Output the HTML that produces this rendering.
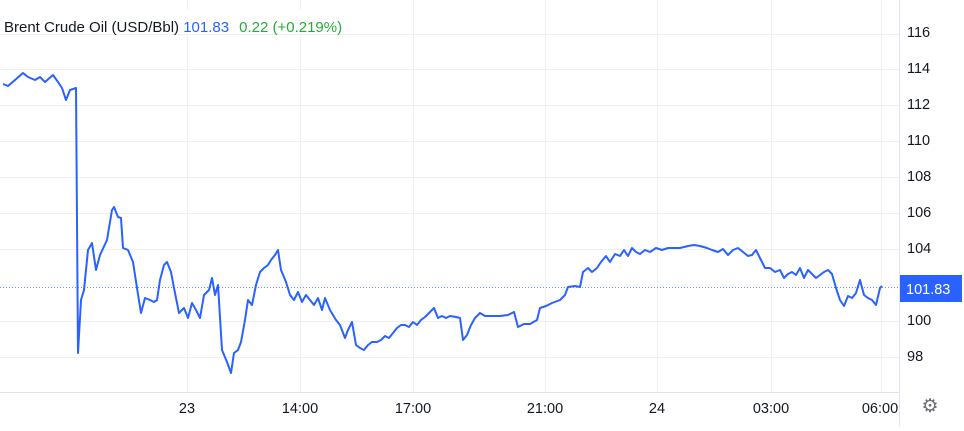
<!DOCTYPE html><html><head><style>
body{margin:0;background:#fff;width:964px;height:426px;overflow:hidden;font-family:"Liberation Sans",Arial,sans-serif}
</style></head><body>
<svg width="964" height="426" xmlns="http://www.w3.org/2000/svg" font-family="Liberation Sans, Arial, sans-serif">
<g stroke="#eef0f3" stroke-width="1">
<line x1="0" y1="34.5" x2="899" y2="34.5"/><line x1="0" y1="69.5" x2="899" y2="69.5"/><line x1="0" y1="105.5" x2="899" y2="105.5"/><line x1="0" y1="141.5" x2="899" y2="141.5"/><line x1="0" y1="177.5" x2="899" y2="177.5"/><line x1="0" y1="213.5" x2="899" y2="213.5"/><line x1="0" y1="249.5" x2="899" y2="249.5"/><line x1="0" y1="321.5" x2="899" y2="321.5"/><line x1="0" y1="357.5" x2="899" y2="357.5"/>
<line x1="187.5" y1="0" x2="187.5" y2="392"/><line x1="300.5" y1="0" x2="300.5" y2="392"/><line x1="413.5" y1="0" x2="413.5" y2="392"/><line x1="545.5" y1="0" x2="545.5" y2="392"/><line x1="657.5" y1="0" x2="657.5" y2="392"/><line x1="771.5" y1="0" x2="771.5" y2="392"/><line x1="881.5" y1="0" x2="881.5" y2="392"/>
</g>
<line x1="0" y1="392.5" x2="899" y2="392.5" stroke="#e0e3eb"/>
<line x1="899.5" y1="0" x2="899.5" y2="426" stroke="#e0e3eb"/>
<rect x="0" y="10" width="345" height="24" fill="#fff"/>
<line x1="0" y1="287.5" x2="899" y2="287.5" stroke="#6f8ff5" stroke-width="1" stroke-dasharray="1,2"/>
<polyline fill="none" stroke="#2962ff" stroke-width="2" stroke-linejoin="round" points="3,84 8,86 15,80 23,73 28,77 35,80 40,77 45,82 53,75 58,82 62,88 66,100 70,90 76,88 78,353 81,300 84,290 88,250 92,243 96,270 100,255 107,240 112,210 114,207 118,217 121,218 123,248 128,250 133,262 137,288 141,313 145,298 150,300 154,302 157,300 160,280 164,265 167,262 171,272 174,288 179,313 184,308 188,318 192,303 196,310 200,318 204,295 209,290 212,278 215,295 218,285 222,350 227,362 231,373 234,353 238,350 241,342 245,320 248,300 252,305 256,285 260,272 264,268 268,265 271,260 275,255 278,250 281,270 286,282 290,295 294,300 298,292 302,302 306,295 310,300 314,305 318,298 322,310 325,298 330,310 336,320 340,325 345,338 348,330 352,322 356,345 360,348 364,350 368,345 372,342 377,342 381,340 385,336 389,338 393,333 397,328 401,325 405,325 409,327 413,322 417,325 421,320 425,317 430,312 434,308 438,318 442,316 446,318 450,316 456,317 460,318 463,340 467,335 471,325 475,318 480,313 485,316 492,316 500,316 508,315 514,312 518,327 524,324 530,324 537,320 540,308 546,306 552,303 560,300 565,295 568,287 575,286 580,287 583,272 588,268 592,272 597,268 601,262 606,256 610,262 615,254 620,256 624,250 628,256 632,248 636,252 640,254 645,250 650,252 656,248 662,250 668,248 675,248 680,248 688,246 694,245 700,246 707,248 712,250 718,252 723,249 728,255 733,250 738,248 743,252 748,256 752,255 756,250 760,258 765,268 770,268 775,272 780,270 784,278 788,274 792,272 796,275 800,268 804,278 808,270 812,274 816,278 820,275 824,272 828,270 832,274 836,288 840,300 844,306 848,296 852,298 856,293 860,280 864,295 868,298 872,300 876,305 880,288 882,286"/>
<text x="4" y="32" font-size="15" fill="#131722">Brent Crude Oil (USD/Bbl) <tspan fill="#2962ff">101.83</tspan><tspan fill="#22ab3a" dx="10">0.22 (+0.219%)</tspan></text>
<g font-size="14.5" fill="#131722">
<text x="907" y="37">116</text><text x="907" y="73">114</text><text x="907" y="109">112</text><text x="907" y="145">110</text><text x="907" y="181">108</text><text x="907" y="217">106</text><text x="907" y="253">104</text><text x="907" y="325">100</text><text x="907" y="361">98</text>
</g>
<rect x="900" y="275" width="62" height="27" fill="#2962ff"/>
<text x="906" y="294" font-size="14.5" fill="#fff">101.83</text>
<g font-size="14.5" fill="#131722" text-anchor="middle">
<text x="187" y="413">23</text><text x="300" y="413">14:00</text><text x="413" y="413">17:00</text><text x="545" y="413">21:00</text><text x="657" y="413">24</text><text x="771" y="413">03:00</text><text x="880" y="413">06:00</text>
</g>
<text x="930" y="412" font-size="19" fill="#6a6d78" text-anchor="middle">⚙</text>
</svg>
</body></html>
